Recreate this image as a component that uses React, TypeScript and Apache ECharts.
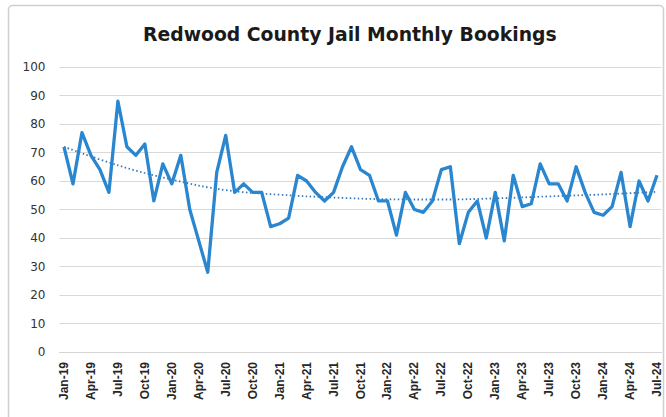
import React, { useEffect, useRef } from "react";
import * as echarts from "echarts";

const MONTHS = ["Jan", "Feb", "Mar", "Apr", "May", "Jun", "Jul", "Aug", "Sep", "Oct", "Nov", "Dec"];
const YEARS = ["19", "20", "21", "22", "23", "24"];
const categories: string[] = [];
for (const y of YEARS) for (const m of MONTHS) categories.push(`${m}-${y}`);
categories.splice(categories.indexOf("Jul-24") + 1);

const bookings = [
  72, 59, 77, 69, 64, 56, 88, 72, 69, 73, 53, 66,
  59, 69, 50, 39, 28, 63, 76, 56, 59, 56, 56, 44,
  45, 47, 62, 60, 56, 53, 56, 65, 72, 64, 62, 53,
  53, 41, 56, 50, 49, 53, 64, 65, 38, 49, 53, 40,
  56, 39, 62, 51, 52, 66, 59, 59, 53, 65, 56, 49,
  48, 51, 63, 44, 60, 53, 62,
];

// Trendline values at every 6th month (others blank)
const trendPoints: Record<string, number> = {
  "Jan-19": 72, "Jul-19": 65.5, "Jan-20": 60.5, "Jul-20": 56.8,
  "Jan-21": 55.2, "Jul-21": 54.2, "Jan-22": 53.6, "Jul-22": 53.5,
  "Jan-23": 53.9, "Jul-23": 54.6, "Jan-24": 55.3, "Jul-24": 56.2,
};
const trend = categories.map((c) => (c in trendPoints ? trendPoints[c] : null));

const yTicks = [0, 10, 20, 30, 40, 50, 60, 70, 80, 90, 100];

export default function App() {
  const ref = useRef<HTMLDivElement>(null);
  useEffect(() => {
    if (!ref.current) return;
    const chart = echarts.init(ref.current, undefined, { renderer: "svg" });
    chart.setOption({
      animation: false,
      backgroundColor: "#ffffff",
      title: {
        text: "Redwood County Jail Monthly Bookings",
        left: 138,
        top: 20,
        textStyle: { fontFamily: "DejaVu Sans", fontWeight: "bold", fontSize: 18.8, color: "#1a1a1a" },
      },
      graphic: [
        {
          type: "rect",
          shape: { x: 8.5, y: 5.5, width: 655, height: 430, r: 4 },
          style: { fill: "none", stroke: "#cfcfcf", lineWidth: 1.5 },
          silent: true,
        },
      ],
      grid: { left: 59.5, right: 4.5, top: 67, bottom: 65 },
      xAxis: {
        type: "category",
        data: categories,
        boundaryGap: true,
        axisLine: { show: true, lineStyle: { color: "#d4d4d4", width: 1 } },
        axisTick: { show: false },
        axisLabel: {
          rotate: 90,
          interval: 2,
          margin: 10,
          fontFamily: "Liberation Sans",
          fontWeight: "bold",
          fontSize: 12,
          color: "#262626",
        },
      },
      yAxis: {
        type: "value",
        min: yTicks[0],
        max: yTicks[yTicks.length - 1],
        interval: 10,
        axisLine: { show: false },
        axisTick: { show: false },
        splitLine: { lineStyle: { color: "#d9d9d9", width: 1 } },
        axisLabel: {
          margin: 14,
          fontFamily: "DejaVu Sans",
          fontSize: 12,
          color: "#333333",
        },
      },
      series: [
        {
          type: "line",
          data: trend,
          connectNulls: true,
          smooth: 0.4,
          symbol: "none",
          lineStyle: { color: "#3a78b5", width: 1.8, type: [1.5, 2.5] },
          z: 2,
        },
        {
          type: "line",
          data: bookings,
          symbol: "none",
          lineStyle: { color: "#2a86cf", width: 3.3, join: "round" },
          z: 3,
        },
      ],
    });
    return () => chart.dispose();
  }, []);
  return <div ref={ref} style={{ position: "fixed", left: 0, top: 0, width: 666, height: 417 }} />;
}
